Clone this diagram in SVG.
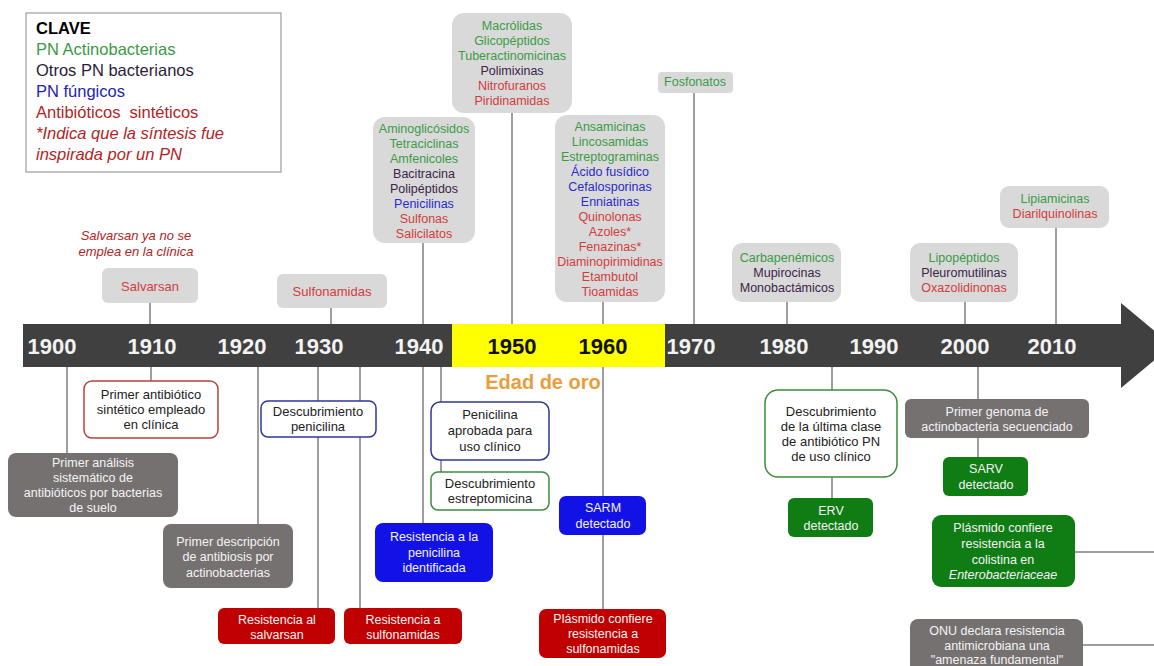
<svg xmlns="http://www.w3.org/2000/svg" width="1154" height="666" viewBox="0 0 1154 666">
<style>
text{font-family:"Liberation Sans",Arial,sans-serif;text-anchor:middle}
.c{stroke:#7f7f7f;stroke-width:1.5;fill:none}
.tb{fill:#d9d9d9}
.top{font-size:12.5px}
.g{fill:#3b9b45}.k{fill:#3a2448}.b{fill:#2a2ad0}.r{fill:#d23c3c}
.gray{fill:#767171}
.wt{fill:#f4f4f4;font-size:12.5px}
.bt{fill:#222;font-size:13px}
.red{fill:#c00000}.blue{fill:#1212e6}.grn{fill:#0f7d14}
.yr{font-size:22px;font-weight:bold;fill:#f2f2f2}
.lg{text-anchor:start;font-size:16.5px}
</style>
<rect width="1154" height="666" fill="#ffffff"/>

<g id="legend">
<rect x="26" y="13" width="255" height="159" fill="#fff" stroke="#8a8a8a" stroke-width="1"/>
<text class="lg" x="36" y="34" font-weight="bold" fill="#000">CLAVE</text>
<text class="lg" x="36" y="55" fill="#3a9a44">PN Actinobacterias</text>
<text class="lg" x="36" y="76" fill="#2b1b3a">Otros PN bacterianos</text>
<text class="lg" x="36" y="97" fill="#2323b5">PN fúngicos</text>
<text class="lg" x="36" y="118" fill="#b22424" xml:space="preserve">Antibióticos  sintéticos</text>
<text class="lg" x="36" y="139" fill="#b22424" font-style="italic">*Indica que la síntesis fue</text>
<text class="lg" x="36" y="160" fill="#b22424" font-style="italic">inspirada por un PN</text>
</g>

<g id="connectors">
<path class="c" d="M150 303V324M331 308V324M423 243V324M512 113V324M603 302V324M694 92V324M787 302V324M965 302V324M1056 228V324"/>
<path class="c" d="M67 367V453M151 367V381M258 367V524M318 367V608M360 367V608M423 367V523M441 367V472M603 367V609M832 367V498M978 367V457"/>
<path class="c" d="M1075 552H1154M1083 645H1154"/>
</g>

<g id="timeline">
<rect x="23" y="324" width="1101" height="43" fill="#404040"/>
<polygon points="1121,303 1172,345.5 1121,388" fill="#404040"/>
<rect x="452" y="324" width="213" height="43" fill="#ffff00"/>
<text class="yr" x="52" y="354">1900</text>
<text class="yr" x="152" y="354">1910</text>
<text class="yr" x="242" y="354">1920</text>
<text class="yr" x="319" y="354">1930</text>
<text class="yr" x="419" y="354">1940</text>
<text class="yr" x="512" y="354" style="fill:#111">1950</text>
<text class="yr" x="603" y="354" style="fill:#111">1960</text>
<text class="yr" x="691" y="354">1970</text>
<text class="yr" x="784" y="354">1980</text>
<text class="yr" x="874" y="354">1990</text>
<text class="yr" x="965" y="354">2000</text>
<text class="yr" x="1052" y="354">2010</text>
<text x="543" y="389" font-size="20" font-weight="bold" fill="#e89e3c">Edad de oro</text>
</g>

<g id="note-salvarsan">
<text x="136" y="240" font-size="13" font-style="italic" fill="#b22424">Salvarsan ya no se</text>
<text x="136" y="256" font-size="13" font-style="italic" fill="#b22424">emplea en la clínica</text>
</g>

<g id="top-salvarsan">
<rect class="tb" x="102" y="268" width="96" height="35" rx="6"/>
<text class="r" x="150" y="291" font-size="13">Salvarsan</text>
</g>
<g id="top-sulfonamidas">
<rect class="tb" x="277" y="274" width="110" height="34" rx="6"/>
<text class="r" x="332" y="296" font-size="13">Sulfonamidas</text>
</g>
<g id="top-1940s" class="top">
<rect class="tb" x="373" y="117" width="102" height="126" rx="12"/>
<text class="g" x="424" y="133">Aminoglicósidos</text>
<text class="g" x="424" y="148">Tetraciclinas</text>
<text class="g" x="424" y="163">Amfenicoles</text>
<text class="k" x="424" y="178">Bacitracina</text>
<text class="k" x="424" y="193">Polipéptidos</text>
<text class="b" x="424" y="208">Penicilinas</text>
<text class="r" x="424" y="223">Sulfonas</text>
<text class="r" x="424" y="238">Salicilatos</text>
</g>
<g id="top-1950s" class="top">
<rect class="tb" x="452" y="13" width="120" height="100" rx="12"/>
<text class="g" x="512" y="30">Macrólidas</text>
<text class="g" x="512" y="45">Glicopéptidos</text>
<text class="g" x="512" y="60">Tuberactinomicinas</text>
<text class="k" x="512" y="75">Polimixinas</text>
<text class="r" x="512" y="90">Nitrofuranos</text>
<text class="r" x="512" y="105">Piridinamidas</text>
</g>
<g id="top-1960s" class="top">
<rect class="tb" x="555" y="115" width="110" height="187" rx="12"/>
<text class="g" x="610" y="130.5">Ansamicinas</text>
<text class="g" x="610" y="145.5">Lincosamidas</text>
<text class="g" x="610" y="160.5">Estreptograminas</text>
<text class="b" x="610" y="175.5">Ácido fusídico</text>
<text class="b" x="610" y="190.5">Cefalosporinas</text>
<text class="b" x="610" y="205.5">Enniatinas</text>
<text class="r" x="610" y="220.5">Quinolonas</text>
<text class="r" x="610" y="235.5">Azoles*</text>
<text class="r" x="610" y="250.5">Fenazinas*</text>
<text class="r" x="610" y="265.5">Diaminopirimidinas</text>
<text class="r" x="610" y="280.5">Etambutol</text>
<text class="r" x="610" y="295.5">Tioamidas</text>
</g>
<g id="top-1970" class="top">
<rect class="tb" x="658" y="72" width="75" height="21" rx="4"/>
<text class="g" x="695" y="86">Fosfonatos</text>
</g>
<g id="top-1980s" class="top">
<rect class="tb" x="732" y="243" width="109" height="59" rx="10"/>
<text class="g" x="787" y="262">Carbapenémicos</text>
<text class="k" x="787" y="277">Mupirocinas</text>
<text class="k" x="787" y="292">Monobactámicos</text>
</g>
<g id="top-2000s" class="top">
<rect class="tb" x="910" y="243" width="108" height="59" rx="10"/>
<text class="g" x="964" y="262">Lipopéptidos</text>
<text class="k" x="964" y="277">Pleuromutilinas</text>
<text class="r" x="964" y="292">Oxazolidinonas</text>
</g>
<g id="top-2010s" class="top">
<rect class="tb" x="1000" y="186" width="109" height="42" rx="9"/>
<text class="g" x="1055" y="203">Lipiamicinas</text>
<text class="r" x="1055" y="218">Diarilquinolinas</text>
</g>

<g id="primer-sintetico">
<rect x="84" y="381" width="134" height="57" rx="8" fill="#fff" stroke="#b8403d" stroke-width="1.5"/>
<text class="bt" x="151" y="399">Primer antibiótico</text>
<text class="bt" x="151" y="414">sintético empleado</text>
<text class="bt" x="151" y="429">en clínica</text>
</g>
<g id="primer-analisis">
<rect class="gray" x="8" y="453" width="170" height="64" rx="8"/>
<text class="wt" x="93" y="467">Primer análisis</text>
<text class="wt" x="93" y="482">sistemático de</text>
<text class="wt" x="93" y="497">antibióticos por bacterias</text>
<text class="wt" x="93" y="512">de suelo</text>
</g>
<g id="primer-descripcion">
<rect class="gray" x="163" y="524" width="130" height="64" rx="8"/>
<text class="wt" x="228" y="546">Primer descripción</text>
<text class="wt" x="228" y="561">de antibiosis por</text>
<text class="wt" x="228" y="577">actinobacterias</text>
</g>
<g id="desc-penicilina">
<rect x="261" y="401" width="115" height="36" rx="7" fill="#fff" stroke="#2f3699" stroke-width="1.5"/>
<text class="bt" x="318" y="416">Descubrimiento</text>
<text class="bt" x="318" y="431">penicilina</text>
</g>
<g id="res-salvarsan">
<rect class="red" x="218" y="608" width="117" height="36" rx="6"/>
<text class="wt" x="277" y="624" font-size="13">Resistencia al</text>
<text class="wt" x="277" y="639" font-size="13">salvarsan</text>
</g>
<g id="res-sulfonamidas">
<rect class="red" x="344" y="608" width="118" height="36" rx="6"/>
<text class="wt" x="403" y="624" font-size="13">Resistencia a</text>
<text class="wt" x="403" y="639" font-size="13">sulfonamidas</text>
</g>
<g id="res-penicilina">
<rect class="blue" x="375" y="523" width="118" height="59" rx="8"/>
<text class="wt" x="434" y="541" font-size="13">Resistencia a la</text>
<text class="wt" x="434" y="557" font-size="13">penicilina</text>
<text class="wt" x="434" y="572" font-size="13">identificada</text>
</g>
<g id="penicilina-aprobada">
<rect x="431" y="402" width="118" height="58" rx="9" fill="#fff" stroke="#2f3699" stroke-width="1.5"/>
<text class="bt" x="490" y="419">Penicilina</text>
<text class="bt" x="490" y="435">aprobada para</text>
<text class="bt" x="490" y="451">uso clínico</text>
</g>
<g id="desc-estreptomicina">
<rect x="431" y="472" width="118" height="38" rx="7" fill="#fff" stroke="#3d8b3d" stroke-width="1.5"/>
<text class="bt" x="490" y="488">Descubrimiento</text>
<text class="bt" x="490" y="503">estreptomicina</text>
</g>
<g id="sarm">
<rect class="blue" x="559" y="496" width="87" height="39" rx="7"/>
<text class="wt" x="603" y="512" font-size="13">SARM</text>
<text class="wt" x="603" y="528" font-size="13">detectado</text>
</g>
<g id="plasmido-sulfonamidas">
<rect class="red" x="539" y="609" width="127" height="49" rx="7"/>
<text class="wt" x="603" y="623" font-size="13">Plásmido confiere</text>
<text class="wt" x="603" y="638" font-size="13">resistencia a</text>
<text class="wt" x="603" y="653" font-size="13">sulfonamidas</text>
</g>
<g id="ultima-clase">
<rect x="765" y="390" width="132" height="87" rx="13" fill="#fff" stroke="#3d8b3d" stroke-width="1.5"/>
<text class="bt" x="831" y="416">Descubrimiento</text>
<text class="bt" x="831" y="431">de la última clase</text>
<text class="bt" x="831" y="446">de antibiótico PN</text>
<text class="bt" x="831" y="461">de uso clínico</text>
</g>
<g id="erv">
<rect class="grn" x="788" y="498" width="85" height="39" rx="6"/>
<text class="wt" x="831" y="515" font-size="13">ERV</text>
<text class="wt" x="831" y="530" font-size="13">detectado</text>
</g>
<g id="primer-genoma">
<rect class="gray" x="905" y="399" width="184" height="39" rx="6"/>
<text class="wt" x="997" y="416">Primer genoma de</text>
<text class="wt" x="997" y="431">actinobacteria secuenciado</text>
</g>
<g id="sarv">
<rect class="grn" x="943" y="457" width="85" height="39" rx="6"/>
<text class="wt" x="986" y="473" font-size="13">SARV</text>
<text class="wt" x="986" y="489" font-size="13">detectado</text>
</g>
<g id="plasmido-colistina">
<rect class="grn" x="932" y="515" width="143" height="72" rx="9"/>
<text class="wt" x="1003" y="532" font-size="13">Plásmido confiere</text>
<text class="wt" x="1003" y="548" font-size="13">resistencia a la</text>
<text class="wt" x="1003" y="564" font-size="13">colistina en</text>
<text class="wt" x="1003" y="579" font-size="13" font-style="italic">Enterobacteriaceae</text>
</g>
<g id="onu">
<rect class="gray" x="910" y="619" width="173" height="56" rx="8"/>
<text class="wt" x="997" y="635">ONU  declara resistencia</text>
<text class="wt" x="997" y="650">antimicrobiana una</text>
<text class="wt" x="997" y="664">"amenaza fundamental"</text>
</g>
</svg>
